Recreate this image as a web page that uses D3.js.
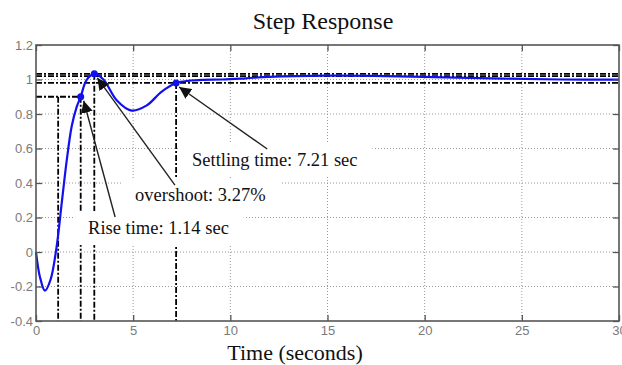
<!DOCTYPE html>
<html>
<head>
<meta charset="utf-8">
<script src="https://d3js.org/d3.v7.min.js"></script>
<style>
  body { margin: 0; background: #fff; }
  svg { display: block; }
  .tick text { font-family: "Liberation Sans", Arial, sans-serif; font-size: 13px; fill: #7a7a7a; }
  .serif { font-family: "Liberation Serif", "Times New Roman", serif; fill: #111; }
</style>
</head>
<body>
<svg id="plot" width="622" height="365"></svg>
<script>
// step response samples
const time_s = [0, 0.2, 0.46, 0.75, 1.06, 1.32, 1.58, 1.84, 2.09, 2.3, 2.6, 3.0, 3.47, 4.15, 4.92,
	5.7, 6.47, 7.21, 7.9, 8.6, 9.6, 10.8, 12, 15, 18, 21, 24, 27, 30];
const response = [0, -0.143, -0.224, -0.16, 0.03, 0.28, 0.53, 0.73, 0.84, 0.9, 0.997, 1.033, 1.0, 0.88, 0.82,
	0.85, 0.93, 0.98, 0.993, 0.998, 1.0, 1.007, 1.015, 1.022, 1.02, 1.012, 1.005, 1.0, 0.999];

const x_ticks = [0, 5, 10, 15, 20, 25, 30];
const y_ticks = [-0.4, -0.2, 0, 0.2, 0.4, 0.6, 0.8, 1, 1.2];

// characteristic points: [time, value]
const rise_start = [1.14, 0.9];
const rise_point = [2.3, 0.9];
const peak_point = [3.0, 1.0327];
const settle_point = [7.21, 0.98];
const settle_band = [1.02, 0.98];

// annotations: text, text anchor (data coords), arrow tail, arrow target
const annotations = [
	{ text: "Settling time: 7.21 sec", at: [8.03, 0.50], tail: [11.9, 0.597], target: settle_point },
	{ text: "overshoot: 3.27%", at: [5.1, 0.295], tail: [7.15, 0.388], target: peak_point },
	{ text: "Rise time: 1.14 sec", at: [2.68, 0.104], tail: [4.07, 0.203], target: rise_point }
];

const svg = d3.select("#plot");
const m_left = 36, m_right = 619, m_top = 45, m_bottom = 321;

const x = d3.scaleLinear().domain([0, 30]).range([m_left, m_right]);
const y = d3.scaleLinear().domain([-0.4, 1.2]).range([m_bottom, m_top]);

// title + x label
svg.append("text").attr("class", "serif")
	.attr("x", 323).attr("y", 29)
	.attr("text-anchor", "middle").style("font-size", "24px")
	.text("Step Response");

svg.append("text").attr("class", "serif")
	.attr("x", 295).attr("y", 360)
	.attr("text-anchor", "middle").style("font-size", "22px")
	.text("Time (seconds)");

// grid
const grid = svg.append("g").attr("stroke", "#999").attr("stroke-width", 1).attr("stroke-dasharray", "1,2");
grid.selectAll(".vg").data(x_ticks.slice(1, -1)).enter().append("line")
	.attr("x1", d => x(d)).attr("x2", d => x(d)).attr("y1", m_top).attr("y2", m_bottom);
grid.selectAll(".hg").data(y_ticks.slice(1, -1)).enter().append("line")
	.attr("y1", d => y(d)).attr("y2", d => y(d)).attr("x1", m_left).attr("x2", m_right);

// dash-dot reference lines
const refs = svg.append("g").attr("stroke", "#000").attr("stroke-width", 1.8)
	.attr("stroke-dasharray", "6,2,2,2").attr("fill", "none");
const ref_lines = [
	[[0, peak_point[1]], [30, peak_point[1]]],
	[[0, settle_band[0]], [30, settle_band[0]]],
	[[0, settle_band[1]], [30, settle_band[1]]],
	[[0, rise_point[1]], rise_point],
	[rise_start, [rise_start[0], -0.4]],
	[rise_point, [rise_point[0], -0.4]],
	[peak_point, [peak_point[0], -0.4]],
	[settle_point, [settle_point[0], -0.4]]
];
refs.selectAll("line").data(ref_lines).enter().append("line")
	.attr("x1", d => x(d[0][0])).attr("y1", d => y(d[0][1]))
	.attr("x2", d => x(d[1][0])).attr("y2", d => y(d[1][1]));

// annotation text boxes (white, hide grid underneath)
const box_g = svg.append("g");
const text_g = svg.append("g");
annotations.forEach(a => {
	const t = text_g.append("text").attr("class", "serif")
		.attr("x", x(a.at[0])).attr("y", y(a.at[1]))
		.style("font-size", "18.5px").text(a.text);
	const bb = t.node().getBBox();
	box_g.append("rect")
		.attr("x", bb.x - 13).attr("y", bb.y - 7)
		.attr("width", bb.width + 28).attr("height", bb.height + 14)
		.attr("fill", "#fff");
});

// response curve
const line = d3.line().x(d => x(d[0])).y(d => y(d[1])).curve(d3.curveCatmullRom);
svg.append("path")
	.datum(d3.zip(time_s, response))
	.attr("fill", "none").attr("stroke", "#1010f0").attr("stroke-width", 2.2)
	.attr("d", line);

svg.selectAll(".marker").data([rise_point, peak_point, settle_point]).enter().append("circle")
	.attr("cx", d => x(d[0])).attr("cy", d => y(d[1])).attr("r", 3.5).attr("fill", "#1010f0");

// arrows
svg.append("defs").append("marker")
	.attr("id", "arrow").attr("viewBox", "0 0 10 10")
	.attr("refX", 10).attr("refY", 5)
	.attr("markerWidth", 12).attr("markerHeight", 12).attr("markerUnits", "userSpaceOnUse")
	.attr("orient", "auto")
	.append("path").attr("d", "M0,0 L10,5 L0,10 z").attr("fill", "#111");

svg.append("g").selectAll("line").data(annotations).enter().append("line")
	.attr("x1", d => x(d.tail[0])).attr("y1", d => y(d.tail[1]))
	.attr("x2", d => x(d.target[0]) + 3).attr("y2", d => y(d.target[1]) + 4)
	.attr("stroke", "#222").attr("stroke-width", 1.4)
	.attr("marker-end", "url(#arrow)");

text_g.raise();

// axes (ticks pointing inward, MATLAB style)
const frame = svg.append("g");
frame.append("g").attr("transform", `translate(0,${m_bottom})`)
	.call(d3.axisBottom(x).tickValues(x_ticks).tickSizeInner(-6).tickSizeOuter(0).tickPadding(5));
frame.append("g").attr("transform", `translate(0,${m_top})`)
	.call(d3.axisTop(x).tickValues(x_ticks).tickSizeInner(-6).tickSizeOuter(0).tickFormat(""));
frame.append("g").attr("transform", `translate(${m_left},0)`)
	.call(d3.axisLeft(y).tickValues(y_ticks).tickSizeInner(-6).tickSizeOuter(0).tickPadding(3)
		.tickFormat(d => String(+d.toFixed(1))));
frame.append("g").attr("transform", `translate(${m_right},0)`)
	.call(d3.axisRight(y).tickValues(y_ticks).tickSizeInner(-6).tickSizeOuter(0).tickFormat(""));
frame.selectAll(".domain").remove();
frame.selectAll(".tick line").attr("stroke", "#555").attr("stroke-width", 1.3);

frame.append("rect")
	.attr("x", m_left).attr("y", m_top).attr("width", m_right - m_left).attr("height", m_bottom - m_top)
	.attr("fill", "none").attr("stroke", "#555").attr("stroke-width", 1.6);
</script>
</body>
</html>
